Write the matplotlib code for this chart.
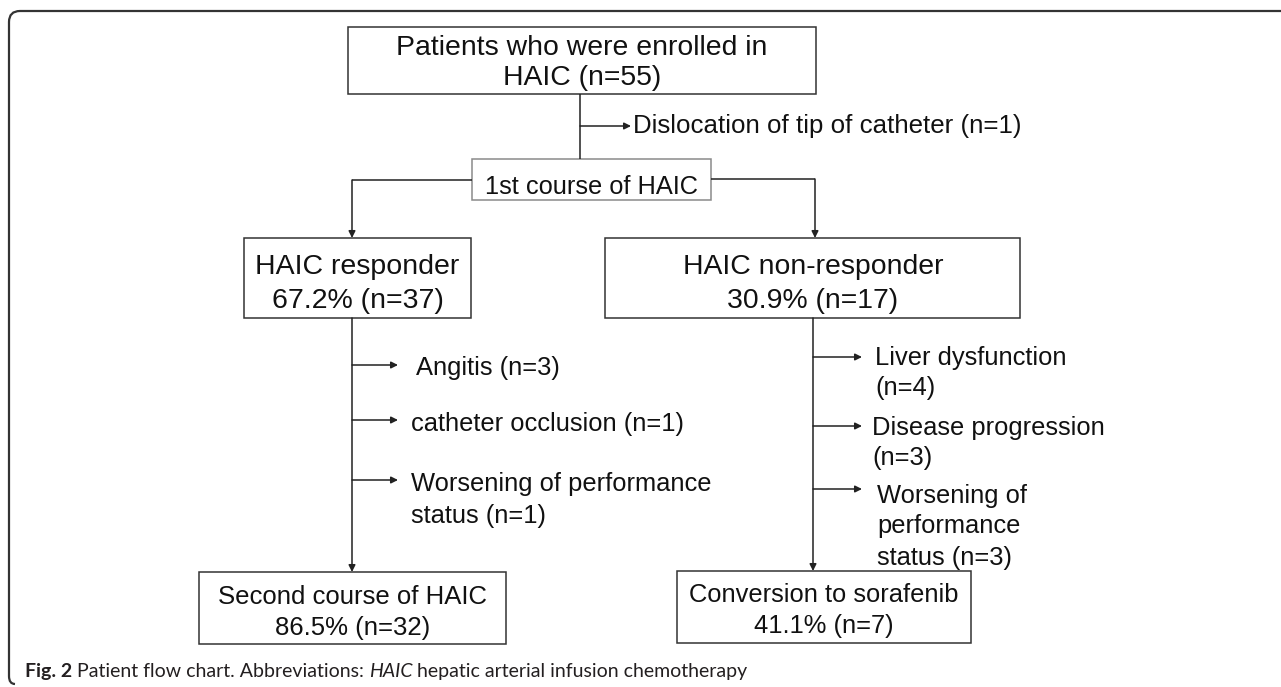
"""Patient flow chart (HAIC responders / non-responders)."""
import matplotlib.pyplot as plt
from matplotlib.path import Path
from matplotlib.patches import Rectangle, PathPatch

W, H = 1281, 687
FONT = ["Liberation Sans", "DejaVu Sans"]

# ---- chart text -------------------------------------------------------
BOX_LABELS = {
    "top": "Patients who were enrolled in\nHAIC (n=55)",
    "first": "1st course of HAIC",
    "resp": "HAIC responder\n67.2% (n=37)",
    "nonresp": "HAIC non-responder\n30.9% (n=17)",
    "second": "Second course of HAIC\n86.5% (n=32)",
    "conv": "Conversion to sorafenib\n41.1% (n=7)",
}
TOP_EXCLUSION = "Dislocation of tip of catheter (n=1)"
RESP_EXITS = ["Angitis (n=3)", "catheter occlusion (n=1)",
              "Worsening of performance\nstatus (n=1)"]
NONRESP_EXITS = ["Liver dysfunction\n(n=4)", "Disease progression\n(n=3)",
                 "Worsening of\nperformance\nstatus (n=3)"]
CAPTION = [("Fig. 2", "bold", "normal"),
           (" Patient flow chart. Abbreviations: ", "normal", "normal"),
           ("HAIC", "normal", "italic"),
           (" hepatic arterial infusion chemotherapy", "normal", "normal")]

# ---- layout (pixel coords, y down) -------------------------------------
BOXES = {  # x0, y0, x1, y1
    "top": (348, 27, 816, 94),
    "first": (472, 159, 711, 200),
    "resp": (244, 238, 471, 318),
    "nonresp": (605, 238, 1020, 318),
    "second": (199, 572, 506, 644),
    "conv": (677, 571, 971, 643),
}
TEXT_X = {"nonresp": 813}
TEXT_Y = {"top": 45, "first": 184, "resp": 264, "nonresp": 264,
          "second": 594, "conv": 592}     # cap middle of first line
FSIZE = {"top": 20.4, "first": 18.3, "resp": 20.5, "nonresp": 20.4,
         "second": 18.5, "conv": 18.4}
GAP = {"top": 30, "resp": 34, "nonresp": 34, "second": 31, "conv": 32}
EDGE = {"first": "#8a8a8a"}

fig = plt.figure(figsize=(W / 100, H / 100), dpi=100)
ax = fig.add_axes([0, 0, 1, 1])
ax.set_xlim(0, W)
ax.set_ylim(H, 0)
ax.axis("off")

LC = "#222222"
TC = "#111111"


def line(xs, ys):
    ax.plot(xs, ys, color=LC, lw=1.1, solid_capstyle="butt")


def arrow(x0, y0, x1, y1):
    ax.annotate("", xy=(x1, y1), xytext=(x0, y0),
                arrowprops=dict(arrowstyle="-|>", color=LC, lw=1.1,
                                mutation_scale=10, shrinkA=0, shrinkB=0))


def label(x, y, text, gap, ha="left", size=18.4):
    # one text per line so every line sits where the reference puts it
    for i, s in enumerate(text.split("\n")):
        ax.text(x, y + i * gap, s, ha=ha, va="center_baseline",
                fontsize=size, family=FONT, color=TC)


# frame: top and left edges with rounded corners
verts = [(W + 5, 11), (20, 11), (9, 11), (9, 22), (9, 676), (9, 684), (15, 684)]
codes = [Path.MOVETO, Path.LINETO, Path.CURVE3, Path.CURVE3,
         Path.LINETO, Path.CURVE3, Path.CURVE3]
ax.add_patch(PathPatch(Path(verts, codes), fill=False, ec="#333333", lw=1.6))

# boxes
for k, (x0, y0, x1, y1) in BOXES.items():
    ax.add_patch(Rectangle((x0, y0), x1 - x0, y1 - y0, fill=False,
                           ec=EDGE.get(k, "#333333"), lw=1.1))
    label(TEXT_X.get(k, (x0 + x1) / 2), TEXT_Y[k], BOX_LABELS[k],
          GAP.get(k, 30), ha="center", size=FSIZE[k])

# top -> first course, with exclusion
line([580, 580], [94, 159])
arrow(580, 126, 631, 126)
label(633, 124, TOP_EXCLUSION, 30, size=18.6)

# split into responder / non-responder
line([472, 352], [180, 180])
arrow(352, 180, 352, 238)
line([711, 815], [179, 179])
arrow(815, 179, 815, 238)

# responder arm
arrow(352, 318, 352, 572)
for y, xt, lab in zip([365, 420, 480], [416, 411, 411], RESP_EXITS):
    arrow(352, y, 398, y)
    label(xt, y + 1, lab, 32)

# non-responder arm
arrow(813, 318, 813, 571)
for y, yt, xt, lab in zip([357, 426, 489], [355, 425, 493], [875, 872, 877],
                          NONRESP_EXITS):
    arrow(813, y, 862, y)
    label(xt, yt, lab, 31)

# caption, pieces chained left to right
fig.canvas.draw()
r = fig.canvas.get_renderer()
x = 25
for txt, wt, st in CAPTION:
    t = ax.text(x, 670, txt, ha="left", va="center_baseline", fontsize=14,
                family=["Lato", "DejaVu Sans"], weight=wt, style=st,
                color="#231f20")
    x += t.get_window_extent(r).width

fig.savefig("out.png", dpi=100)
